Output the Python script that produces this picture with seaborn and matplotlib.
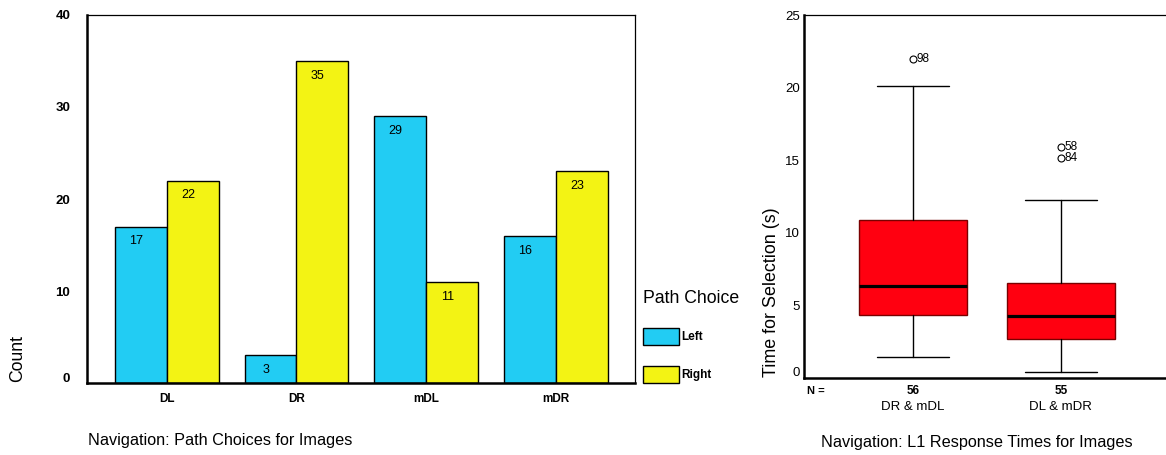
import matplotlib
matplotlib.use("Agg")
import matplotlib.pyplot as plt
import matplotlib.patches as mpatches
import matplotlib.transforms as mtransforms
import pandas as pd
import seaborn as sns

# Path choice counts per image set
images = ["DL", "DR", "mDL", "mDR"]
choices = ["Left", "Right"]
left_counts = [17, 3, 29, 16]
right_counts = [22, 35, 11, 23]

# Response-time summaries per group (seconds)
groups = ["DR & mDL", "DL & mDR"]
group_n = [56, 55]
whisker_low = [1.47, 0.41]
q1 = [4.32, 2.69]
median = [6.36, 4.25]
q3 = [10.9, 6.56]
whisker_high = [20.1, 12.24]
outlier_values = [[22.0], [15.93, 15.17]]
outlier_ids = [["98"], ["58", "84"]]

CYAN = "#22CCF3"
YELLOW = "#F3F314"
RED = "#FF0010"

W, H, DPI = 1166, 455, 100

sns.set_style("white")
plt.rcParams["font.family"] = ["Liberation Sans", "DejaVu Sans"]
plt.rcParams.update({"text.color": "black", "axes.labelcolor": "black",
                     "xtick.color": "black", "ytick.color": "black"})

fig = plt.figure(figsize=(W / DPI, H / DPI), dpi=DPI)


def fx(px):
    return px / W


def fy(py):
    return 1 - py / H


def shift_label(label, dy_px):
    label.set_transform(label.get_transform() +
                        mtransforms.ScaledTranslation(0, dy_px / DPI, fig.dpi_scale_trans))


# ---------------- grouped bar chart ----------------
ax1 = fig.add_axes([fx(87), fy(383), fx(635) - fx(87), fy(15) - fy(383)])
df = pd.DataFrame({
    "Image": images * 2,
    "Count": left_counts + right_counts,
    "Path Choice": [choices[0]] * len(images) + [choices[1]] * len(images),
})
sns.barplot(data=df, x="Image", y="Count", hue="Path Choice", order=images,
            hue_order=choices, palette=[CYAN, YELLOW], saturation=1, width=0.8,
            edgecolor="black", linewidth=1, errorbar=None, legend=False, ax=ax1)

for cont in ax1.containers:
    anns = ax1.bar_label(cont, fmt="%d", padding=-15, fontsize=9, color="black")
    for a in anns:
        a.xyann = (-3.5, a.xyann[1])

ax1.set_xlim(-0.615, 3.61)
ax1.set_ylim(0, 40)
ax1.set_yticks([0, 10, 20, 30, 40])
ax1.set_xlabel("")
ax1.set_ylabel("")
for side in ["left", "bottom"]:
    ax1.spines[side].set_linewidth(1.8)
for side in ["top", "right"]:
    ax1.spines[side].set_linewidth(0.9)
for sp in ax1.spines.values():
    sp.set_color("black")
ax1.tick_params(axis="x", direction="out", length=4, width=1.8, labelsize=8.5, pad=3)
ax1.tick_params(axis="y", direction="out", length=3, width=1.8, labelsize=9.5, pad=9)
for lab in ax1.get_xticklabels() + ax1.get_yticklabels():
    lab.set_fontweight("bold")
shift_label(ax1.get_yticklabels()[0], 6)

handles = [mpatches.Patch(facecolor=c, edgecolor="black", linewidth=1, label=l)
           for c, l in zip([CYAN, YELLOW], choices)]
fig.legend(handles=handles, title="Path Choice", loc="upper left",
           bbox_to_anchor=(fx(643), fy(290)), frameon=False,
           prop={"size": 8.5, "weight": "bold"}, title_fontsize=12.7,
           handlelength=3.05, handleheight=1.84, labelspacing=1.78,
           handletextpad=0.2, borderpad=0, borderaxespad=0, alignment="left")

fig.text(fx(18), fy(358), "Count", rotation=90, ha="center", va="center", fontsize=12.7)
fig.text(fx(88), fy(440), "Navigation: Path Choices for Images", ha="left",
         va="center", fontsize=11.7)

# ---------------- box plot ----------------
ax2 = fig.add_axes([fx(804), fy(378), 1 - fx(804), fy(15) - fy(378)])
stats = [dict(med=median[i], q1=q1[i], q3=q3[i], whislo=whisker_low[i],
              whishi=whisker_high[i], fliers=outlier_values[i], label=groups[i])
         for i in range(len(groups))]
ax2.bxp(stats, positions=[0, 1], widths=0.73, capwidths=0.49, patch_artist=True,
        showfliers=True,
        boxprops=dict(facecolor=RED, edgecolor="#7a0000", linewidth=1),
        medianprops=dict(color="black", linewidth=2.3),
        whiskerprops=dict(color="black", linewidth=1),
        capprops=dict(color="black", linewidth=1),
        flierprops=dict(marker="o", markersize=5, markerfacecolor="none",
                        markeredgecolor="black", markeredgewidth=0.8))

for i, (vals, ids) in enumerate(zip(outlier_values, outlier_ids)):
    for v, t in zip(vals, ids):
        ax2.annotate(t, xy=(i, v), xytext=(2.5, 0), textcoords="offset points",
                     ha="left", va="center", fontsize=8.5)

ax2.set_xlim(-0.736, 1.71)
ax2.set_ylim(0, 25)
ax2.set_yticks([0, 5, 10, 15, 20, 25])
ax2.set_xticks([0, 1])
ax2.set_xticklabels(["", ""])
ax2.spines["right"].set_visible(False)
for side in ["left", "bottom"]:
    ax2.spines[side].set_linewidth(1.8)
ax2.spines["top"].set_linewidth(0.9)
for sp in ax2.spines.values():
    sp.set_color("black")
ax2.tick_params(axis="y", direction="out", length=2.5, width=1, labelsize=9.5, pad=0.5)
ax2.tick_params(axis="x", direction="out", length=3, width=1.8)
shift_label(ax2.get_yticklabels()[0], 7)

trans = mtransforms.blended_transform_factory(ax2.transData, fig.transFigure)
fig.text(fx(807), fy(391), "N =", ha="left", va="center", fontsize=8, fontweight="bold")
for i, (n, g) in enumerate(zip(group_n, groups)):
    ax2.text(i, fy(391), str(n), transform=trans, ha="center", va="center",
             fontsize=8.5, fontweight="bold")
    ax2.text(i, fy(407), g, transform=trans, ha="center", va="center", fontsize=9.5)

fig.text(fx(772), fy(292), "Time for Selection (s)", rotation=90, ha="center",
         va="center", fontsize=12.9)
fig.text(fx(977), fy(442), "Navigation: L1 Response Times for Images", ha="center",
         va="center", fontsize=11.7)

fig.savefig("out.png", dpi=DPI)
